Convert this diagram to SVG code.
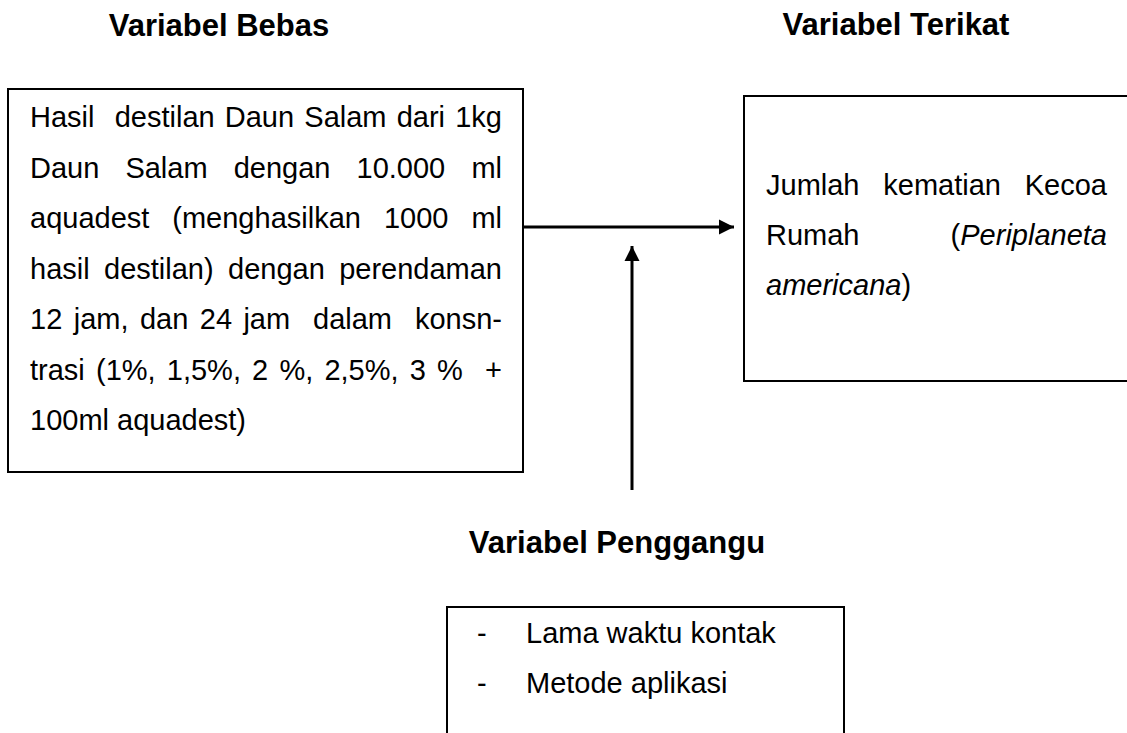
<svg xmlns="http://www.w3.org/2000/svg" width="1127" height="733" viewBox="0 0 1127 733">
<style>
.box{fill:#fff;stroke:#000;stroke-width:2}
.t{font-family:"Liberation Sans",Arial,sans-serif;font-size:29px;fill:#000}
.h{font-family:"Liberation Sans",Arial,sans-serif;font-size:31px;font-weight:bold;fill:#000}
.e{text-anchor:end}
.i{font-style:italic}
.ln{stroke:#000;stroke-width:3;fill:none}
</style>
<defs>
<marker id="ah" markerWidth="16" markerHeight="16" refX="15" refY="8" orient="auto" markerUnits="userSpaceOnUse">
<path d="M0,0.5 L15,8 L0,15.5 Z" fill="#000"/>
</marker>
</defs>
<rect width="1127" height="733" fill="#fff"/>
<text class="h" x="219" y="36" text-anchor="middle">Variabel Bebas</text>
<text class="h" x="896" y="35" text-anchor="middle">Variabel Terikat</text>
<text class="h" x="617" y="553" text-anchor="middle">Variabel Penggangu</text>
<g id="node-bebas">
<rect class="box" x="8" y="89" width="515" height="383"/>
<text class="t" y="127"><tspan x="30">Hasil</tspan><tspan x="114.7">destilan</tspan><tspan x="224.8">Daun</tspan><tspan x="304.3">Salam</tspan><tspan x="396.7">dari</tspan></text>
<text class="t e" x="502" y="127">1kg</text>
<text class="t" y="177.5"><tspan x="30">Daun</tspan><tspan x="125.4">Salam</tspan><tspan x="233.7">dengan</tspan><tspan x="356.5">10.000</tspan></text>
<text class="t e" x="502" y="177.5">ml</text>
<text class="t" y="228"><tspan x="30">aquadest</tspan><tspan x="172.3">(menghasilkan</tspan><tspan x="383.9">1000</tspan></text>
<text class="t e" x="502" y="228">ml</text>
<text class="t" y="278.5"><tspan x="30">hasil</tspan><tspan x="104">destilan)</tspan><tspan x="228">dengan</tspan></text>
<text class="t e" x="502" y="278.5">perendaman</text>
<text class="t" y="329"><tspan x="30">12</tspan><tspan x="73.7">jam,</tspan><tspan x="139.9">dan</tspan><tspan x="199.8">24</tspan><tspan x="243.4">jam</tspan><tspan x="313">dalam</tspan></text>
<text class="t e" x="502" y="329">konsn-</text>
<text class="t" y="379.5"><tspan x="30">trasi</tspan><tspan x="96">(1%,</tspan><tspan x="166.8">1,5%,</tspan><tspan x="252.1">2</tspan><tspan x="279.4">%,</tspan><tspan x="324.4">2,5%,</tspan><tspan x="409.7">3</tspan><tspan x="437">%</tspan></text>
<text class="t e" x="502" y="379.5">+</text>
<text class="t" x="30" y="430">100ml aquadest)</text>
</g>
<g id="node-terikat">
<rect class="box" x="744" y="96" width="390" height="285"/>
<text class="t" y="195"><tspan x="766">Jumlah</tspan><tspan x="883.3">kematian</tspan></text>
<text class="t e" x="1107" y="195">Kecoa</text>
<text class="t" x="766" y="245">Rumah</text>
<text class="t e" x="1107" y="245">(<tspan class="i">Periplaneta</tspan></text>
<text class="t" x="766" y="295"><tspan class="i">americana</tspan>)</text>
</g>
<g id="node-penggangu">
<rect class="box" x="447" y="607" width="397" height="140"/>
<text class="t" y="643"><tspan x="477">-</tspan><tspan x="526">Lama waktu kontak</tspan></text>
<text class="t" y="693"><tspan x="477">-</tspan><tspan x="526">Metode aplikasi</tspan></text>
</g>
<g id="connectors">
<line class="ln" x1="523" y1="227" x2="734" y2="227" marker-end="url(#ah)"/>
<line class="ln" x1="632" y1="490" x2="632" y2="246" marker-end="url(#ah)"/>
</g>
</svg>
